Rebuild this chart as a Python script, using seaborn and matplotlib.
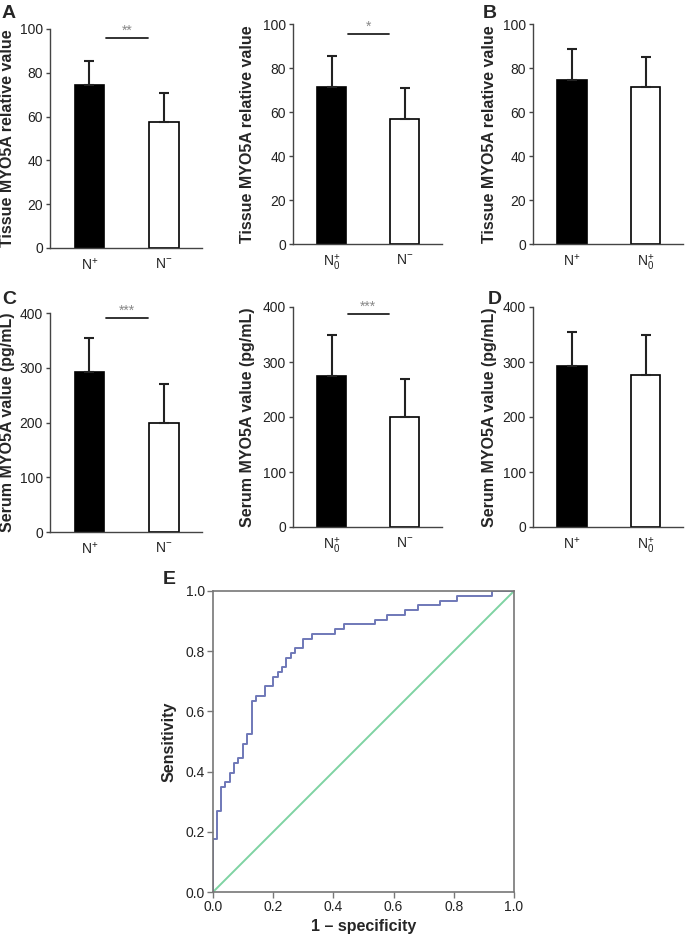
import numpy as np
import pandas as pd
import seaborn as sns
import matplotlib.pyplot as plt

sns.set_style("white")
plt.rcParams['font.family'] = ['Liberation Sans', 'DejaVu Sans']
plt.rcParams['mathtext.fontset'] = 'custom'
plt.rcParams['mathtext.rm'] = 'Liberation Sans'
plt.rcParams['mathtext.it'] = 'Liberation Sans'

# bar panel data (mean, sd)
lbl_np = r'N$^{+}$'
lbl_nm = r'N$^{-}$'
lbl_n0 = r'N$_0^{+}$'

tissue_a_groups = [lbl_np, lbl_nm]
tissue_a_mean = [74.5, 57.5]
tissue_a_sd = [11.0, 13.5]

tissue_a2_groups = [lbl_n0, lbl_nm]
tissue_a2_mean = [71.5, 57.0]
tissue_a2_sd = [14.0, 13.8]

tissue_b_groups = [lbl_np, lbl_n0]
tissue_b_mean = [74.5, 71.5]
tissue_b_sd = [14.0, 13.5]

serum_c_groups = [lbl_np, lbl_nm]
serum_c_mean = [292, 200]
serum_c_sd = [63, 70]

serum_c2_groups = [lbl_n0, lbl_nm]
serum_c2_mean = [275, 200]
serum_c2_sd = [75, 70]

serum_d_groups = [lbl_np, lbl_n0]
serum_d_mean = [293, 277]
serum_d_sd = [62, 73]

# ROC curve corner points
fpr = [0, 0, 0.014, 0.028, 0.041, 0.055, 0.070, 0.084, 0.099, 0.114, 0.130,
       0.142, 0.172, 0.200, 0.215, 0.230, 0.244, 0.258, 0.272, 0.300, 0.330,
       0.406, 0.435, 0.537, 0.578, 0.637, 0.680, 0.753, 0.810, 0.927, 1.0]
tpr = [0, 0.175, 0.270, 0.349, 0.365, 0.397, 0.429, 0.444, 0.492, 0.524, 0.635,
       0.651, 0.683, 0.714, 0.730, 0.746, 0.778, 0.794, 0.810, 0.841, 0.857,
       0.873, 0.889, 0.905, 0.921, 0.937, 0.952, 0.968, 0.984, 1.0, 1.0]

W, H = 685, 940
fig = plt.figure(figsize=(W / 100, H / 100), dpi=100)


def px_axes(x0, y0, x1, y1):
    return fig.add_axes([x0 / W, 1 - y1 / H, (x1 - x0) / W, (y1 - y0) / H])


bw = 0.40
spine_col = '#444444'


def bar_panel(ax, groups, mean, sd, ymax, ystep, ylabel, lab_x, sig=None, sig_y=None):
    df = pd.DataFrame({'group': groups, 'value': mean})
    sns.barplot(data=df, x='group', y='value', hue='group', order=groups,
                palette=['black', 'white'], edgecolor='black', linewidth=1.2,
                width=bw, legend=False, ax=ax)
    ax.errorbar(range(len(groups)), mean, yerr=[[0] * len(sd), sd], fmt='none',
                ecolor='#222222', elinewidth=1.5, capsize=3.5, capthick=1.5)
    ax.set_xlim(-0.53, 1.51)
    ax.set_ylim(0, ymax)
    ax.set_yticks(np.arange(0, ymax + 1, ystep))
    ax.set_xlabel('')
    ax.set_ylabel(ylabel, fontsize=11.5, fontweight='bold')
    ax.yaxis.set_label_coords(lab_x, 0.5)
    for s in ['top', 'right']:
        ax.spines[s].set_visible(False)
    for s in ['left', 'bottom']:
        ax.spines[s].set_color(spine_col)
        ax.spines[s].set_linewidth(1.0)
    ax.tick_params(axis='y', which='both', left=True, length=3, width=1,
                   color=spine_col, labelsize=10, pad=2, labelcolor='#222222')
    ax.tick_params(axis='x', bottom=False, labelsize=10, pad=3,
                   labelcolor='#222222')
    if sig:
        ax.plot([bw / 2 + 0.02, 1 - bw / 2 - 0.02], [sig_y, sig_y],
                color='#222222', lw=1.3, clip_on=False)
        ax.text(0.5, sig_y, sig, ha='center', va='bottom', fontsize=10,
                color='#888888')


tis_lab = 'Tissue MYO5A relative value'
ser_lab = 'Serum MYO5A value (pg/mL)'

ax1 = px_axes(50, 29, 202, 248)
bar_panel(ax1, tissue_a_groups, tissue_a_mean, tissue_a_sd, 100, 20, tis_lab, -0.23, '**', 96)
ax2 = px_axes(293, 24, 442, 244)
bar_panel(ax2, tissue_a2_groups, tissue_a2_mean, tissue_a2_sd, 100, 20, tis_lab, -0.255, '*', 95.5)
ax3 = px_axes(533, 24, 683, 244)
bar_panel(ax3, tissue_b_groups, tissue_b_mean, tissue_b_sd, 100, 20, tis_lab, -0.24)

ax4 = px_axes(50, 313, 202, 532)
bar_panel(ax4, serum_c_groups, serum_c_mean, serum_c_sd, 400, 100, ser_lab, -0.23, '***', 391)
ax5 = px_axes(293, 307, 442, 527)
bar_panel(ax5, serum_c2_groups, serum_c2_mean, serum_c2_sd, 400, 100, ser_lab, -0.255, '***', 387)
ax6 = px_axes(533, 307, 683, 527)
bar_panel(ax6, serum_d_groups, serum_d_mean, serum_d_sd, 400, 100, ser_lab, -0.24)

# ROC panel
ax7 = px_axes(213, 591, 514, 892)
sns.lineplot(x=[0, 1], y=[0, 1], color='#7fd3a2', lw=1.4, ax=ax7)
sns.lineplot(x=fpr, y=tpr, estimator=None, sort=False, drawstyle='steps-post',
             color='#6f78b8', lw=1.4, ax=ax7)
ax7.set_xlim(0, 1)
ax7.set_ylim(0, 1)
ax7.set_xticks(np.arange(0, 1.01, 0.2))
ax7.set_yticks(np.arange(0, 1.01, 0.2))
ax7.set_xticklabels(['%.1f' % v for v in np.arange(0, 1.01, 0.2)])
ax7.set_yticklabels(['%.1f' % v for v in np.arange(0, 1.01, 0.2)])
for s in ax7.spines.values():
    s.set_color('#777777')
    s.set_linewidth(1.2)
ax7.tick_params(axis='both', which='both', bottom=True, left=True, length=4,
                width=1, color='#777777', labelsize=10, labelcolor='#222222', pad=2)
ax7.set_xlabel('1 \u2013 specificity', fontsize=11.5, fontweight='bold', labelpad=3)
ax7.set_ylabel('Sensitivity', fontsize=11.5, fontweight='bold', labelpad=6)

# panel letters
for txt, x, y in [('A', 2, 14), ('B', 483, 14), ('C', 2, 300), ('D', 488, 300), ('E', 163, 580)]:
    fig.text(x / W, 1 - y / H, txt, fontsize=14, fontweight='bold', ha='left', va='center')

fig.savefig('out.png', dpi=100)
